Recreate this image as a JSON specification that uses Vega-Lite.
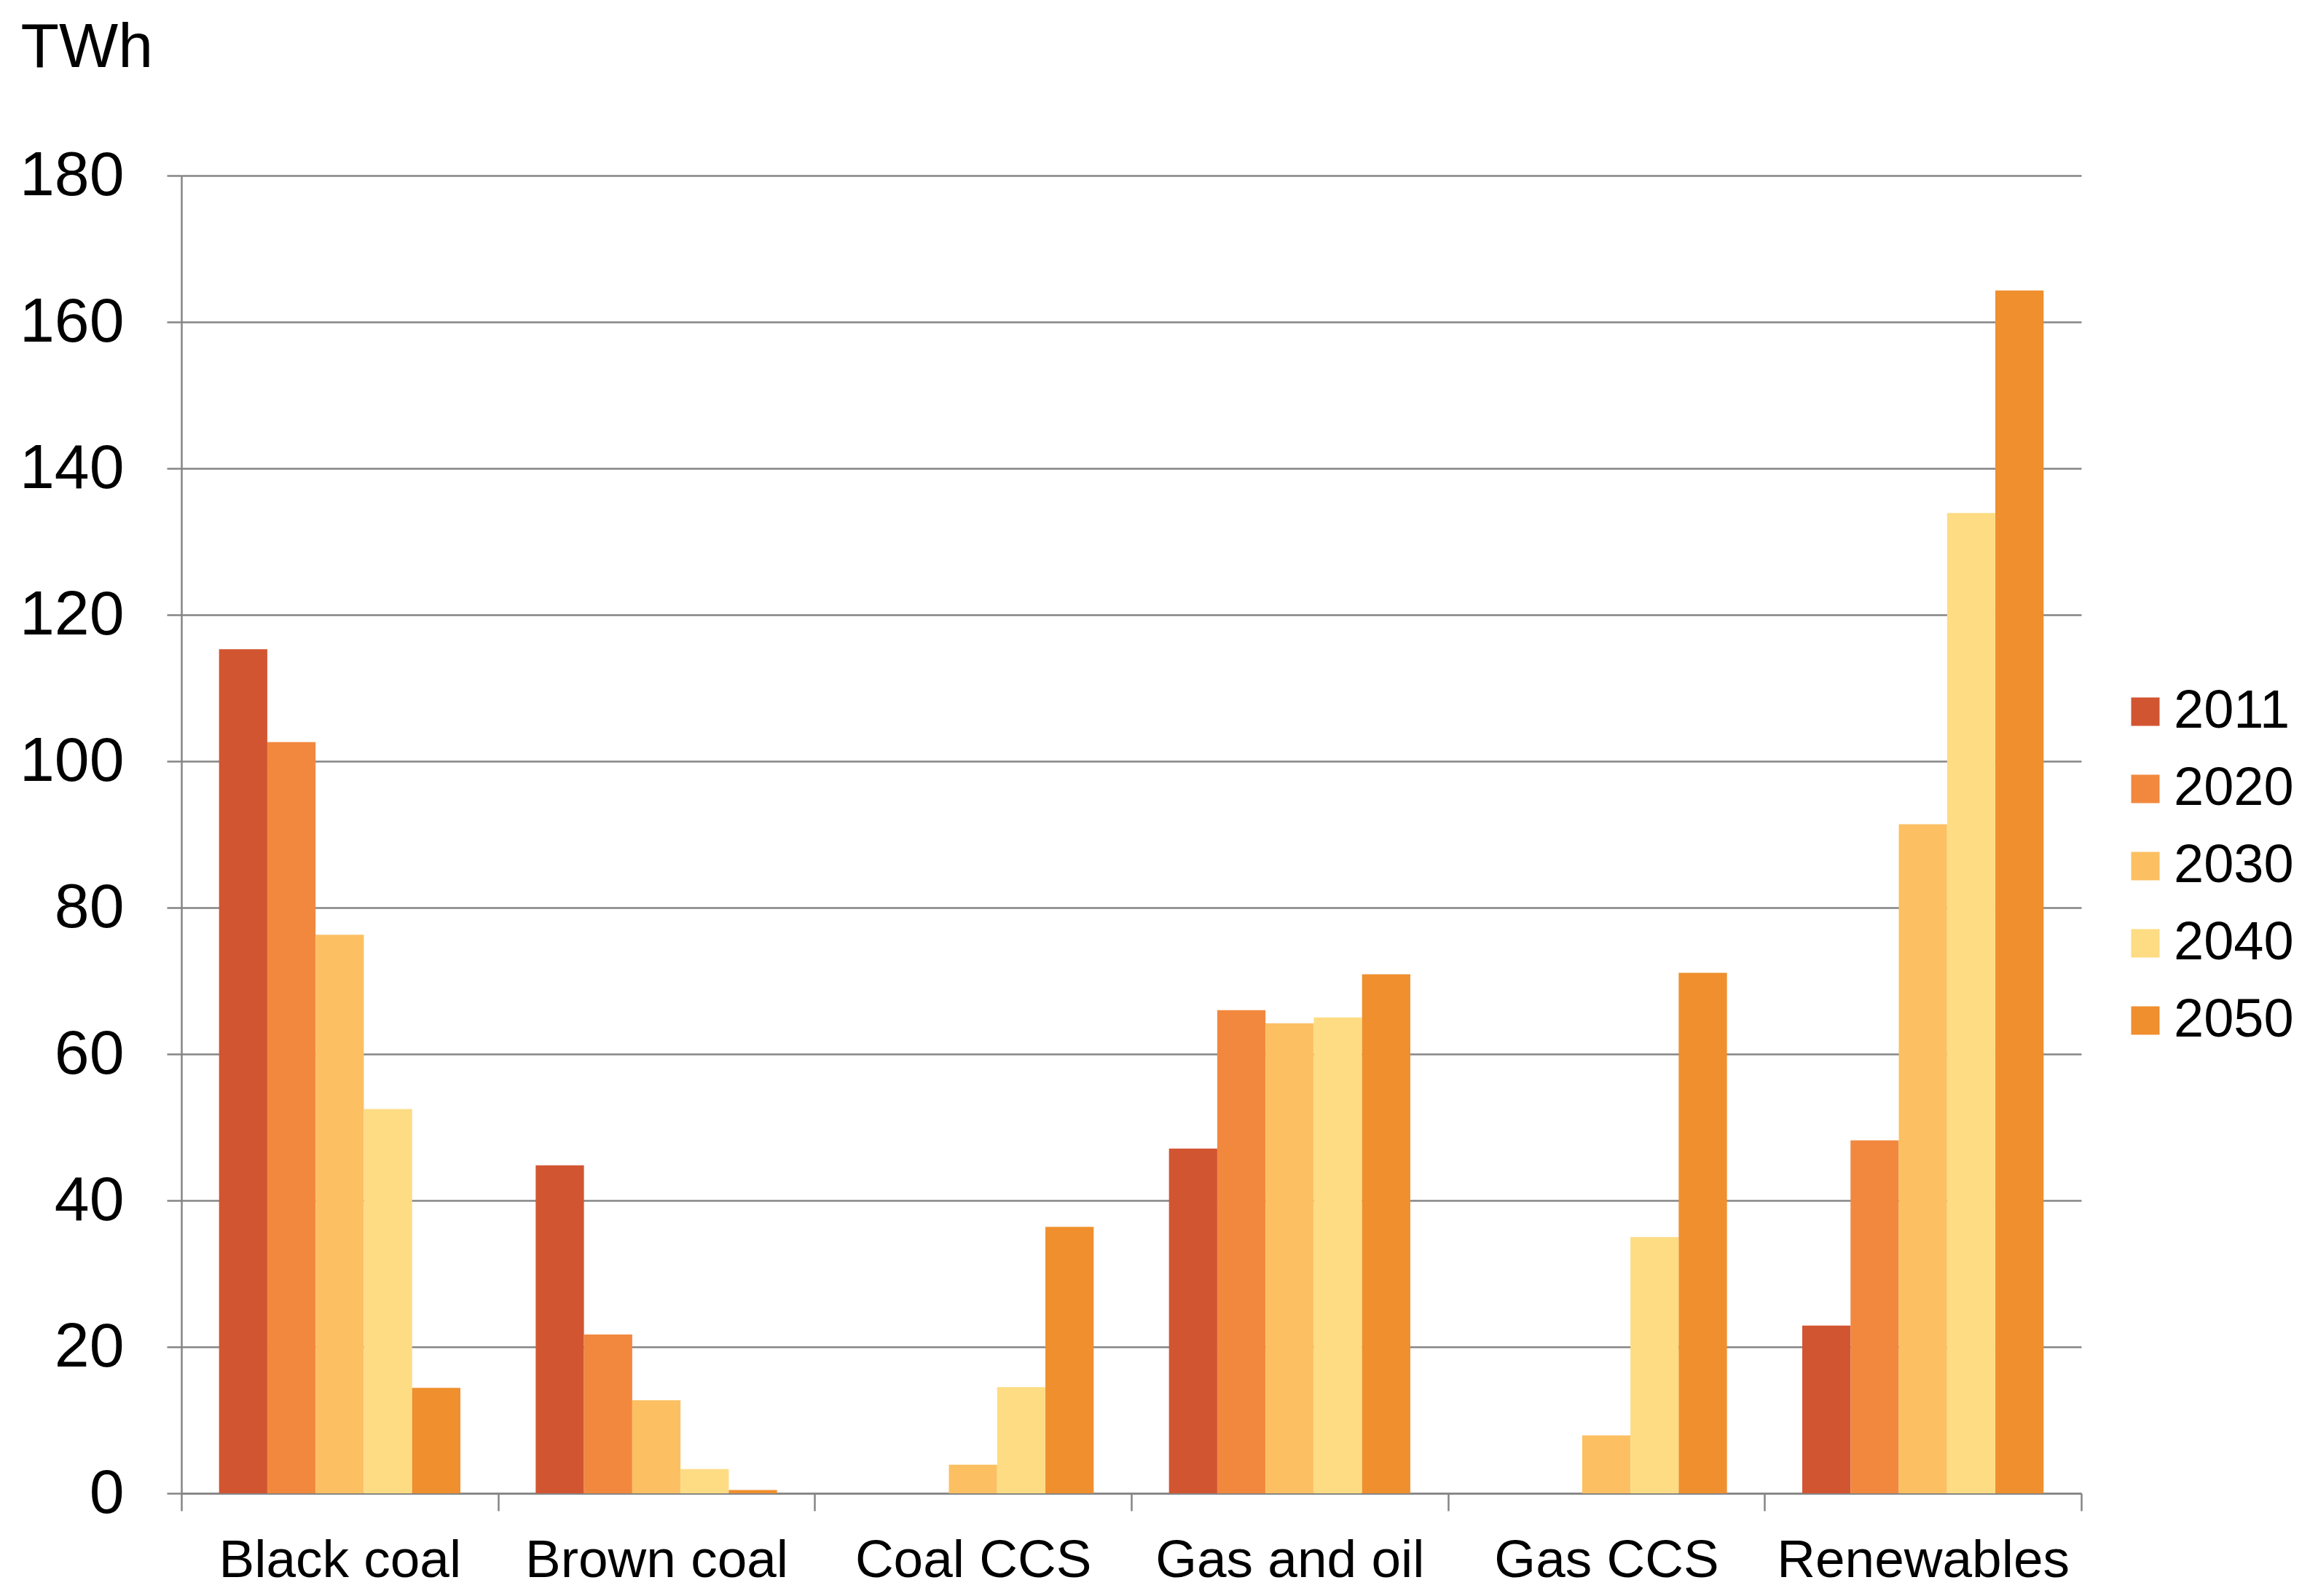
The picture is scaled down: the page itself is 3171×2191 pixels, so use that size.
{
  "$schema": "https://vega.github.io/schema/vega-lite/v6.json",
  "width": 2608,
  "height": 1809,
  "autosize": {"type": "none"},
  "padding": {"left": 249, "top": 241, "right": 314, "bottom": 141},
  "background": "white",
  "config": {"view": {"stroke": null}, "font": "Liberation Sans"},
  "data": {
    "values": [
      {"source": "Black coal", "year": "2011", "twh": 115.3},
      {"source": "Black coal", "year": "2020", "twh": 102.6},
      {"source": "Black coal", "year": "2030", "twh": 76.3},
      {"source": "Black coal", "year": "2040", "twh": 52.5},
      {"source": "Black coal", "year": "2050", "twh": 14.4},
      {"source": "Brown coal", "year": "2011", "twh": 44.8},
      {"source": "Brown coal", "year": "2020", "twh": 21.7},
      {"source": "Brown coal", "year": "2030", "twh": 12.7},
      {"source": "Brown coal", "year": "2040", "twh": 3.3},
      {"source": "Brown coal", "year": "2050", "twh": 0.45},
      {"source": "Coal CCS", "year": "2011", "twh": 0},
      {"source": "Coal CCS", "year": "2020", "twh": 0},
      {"source": "Coal CCS", "year": "2030", "twh": 3.9},
      {"source": "Coal CCS", "year": "2040", "twh": 14.5},
      {"source": "Coal CCS", "year": "2050", "twh": 36.4},
      {"source": "Gas and oil", "year": "2011", "twh": 47.1},
      {"source": "Gas and oil", "year": "2020", "twh": 66.0},
      {"source": "Gas and oil", "year": "2030", "twh": 64.2},
      {"source": "Gas and oil", "year": "2040", "twh": 65.0},
      {"source": "Gas and oil", "year": "2050", "twh": 70.9},
      {"source": "Gas CCS", "year": "2011", "twh": 0},
      {"source": "Gas CCS", "year": "2020", "twh": 0},
      {"source": "Gas CCS", "year": "2030", "twh": 7.9},
      {"source": "Gas CCS", "year": "2040", "twh": 35.0},
      {"source": "Gas CCS", "year": "2050", "twh": 71.1},
      {"source": "Renewables", "year": "2011", "twh": 22.9},
      {"source": "Renewables", "year": "2020", "twh": 48.2},
      {"source": "Renewables", "year": "2030", "twh": 91.4},
      {"source": "Renewables", "year": "2040", "twh": 133.9},
      {"source": "Renewables", "year": "2050", "twh": 164.3}
    ]
  },
  "mark": {"type": "bar"},
  "encoding": {
    "x": {
      "field": "source",
      "type": "nominal",
      "sort": ["Black coal", "Brown coal", "Coal CCS", "Gas and oil", "Gas CCS", "Renewables"],
      "scale": {"paddingInner": 0, "paddingOuter": 0},
      "axis": {
        "title": null,
        "labelAngle": 0,
        "labelFontSize": 73,
        "labelColor": "black",
        "labelPadding": 32,
        "labelLimit": 0,
        "tickBand": "extent",
        "tickSize": 24,
        "tickColor": "#858585",
        "tickWidth": 2.5,
        "domainColor": "#858585",
        "domainWidth": 2.5,
        "grid": false
      }
    },
    "xOffset": {
      "field": "year",
      "type": "nominal",
      "scale": {"paddingOuter": 0.78, "paddingInner": 0}
    },
    "y": {
      "field": "twh",
      "type": "quantitative",
      "scale": {"domain": [0, 180], "nice": false},
      "axis": {
        "values": [0, 20, 40, 60, 80, 100, 120, 140, 160, 180],
        "title": "TWh",
        "titleAngle": 0,
        "titleAlign": "left",
        "titleBaseline": "alphabetic",
        "titleX": -221,
        "titleY": -150,
        "titleFontSize": 86,
        "titleFontWeight": "normal",
        "titleColor": "black",
        "labelFontSize": 86,
        "labelColor": "black",
        "labelPadding": 59,
        "tickSize": 20,
        "tickColor": "#858585",
        "tickWidth": 2.5,
        "domainColor": "#858585",
        "domainWidth": 2.5,
        "grid": true,
        "gridColor": "#858585",
        "gridWidth": 2.5
      }
    },
    "color": {
      "field": "year",
      "type": "nominal",
      "scale": {
        "domain": ["2011", "2020", "2030", "2040", "2050"],
        "range": ["#D25532", "#F2883E", "#FCC062", "#FEDC84", "#EF8F2D"]
      },
      "legend": {
        "title": null,
        "orient": "none",
        "legendX": 2659,
        "legendY": 699,
        "symbolType": "square",
        "symbolSize": 1521,
        "symbolStrokeWidth": 0,
        "symbolOpacity": 1,
        "labelFontSize": 74,
        "labelColor": "black",
        "labelLimit": 0,
        "labelOffset": 2,
        "rowPadding": 32
      }
    }
  }
}
